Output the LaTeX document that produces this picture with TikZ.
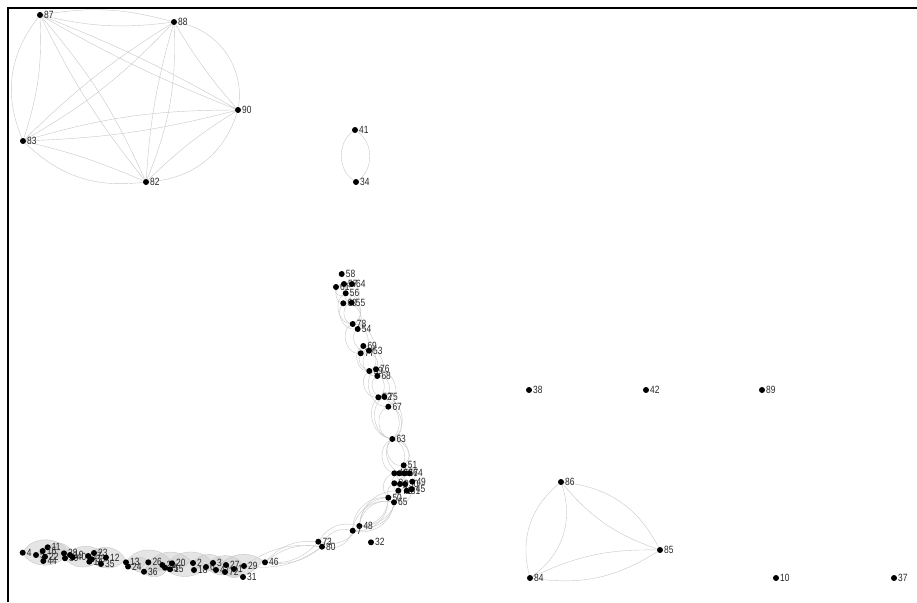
\documentclass[tikz,border=0pt]{standalone}
\usepackage{fontspec}
\usetikzlibrary{backgrounds}
\newfontfamily\labelfont{Liberation Sans}[FakeStretch=0.8]
\begin{document}
\begin{tikzpicture}[x=1pt,y=-1pt,
  lbl/.style={font=\labelfont\fontsize{10.5}{10.5}\selectfont,text=black!85,inner sep=0.8pt},
  vtx/.style={circle,fill=black,inner sep=0pt,minimum size=6pt,label={[lbl]east:#1}},
  link/.style={draw=black!22,line width=0.4pt},
  shade/.style={link,fill=black!20,fill opacity=0.5}]
\useasboundingbox (0,0) rectangle (917,602);
\draw[line width=2pt] (8,602) -- (8,8) -- (917,8);

% five-clique, top left
\node[vtx=87] (v87) at (40,15) {};
\node[vtx=88] (v88) at (174,22) {};
\node[vtx=90] (v90) at (238,110) {};
\node[vtx=82] (v82) at (146,182) {};
\node[vtx=83] (v83) at (23,141) {};

% pair 41--34
\node[vtx=41] (v41) at (355,130) {};
\node[vtx=34] (v34) at (356,182) {};

% lone vertices
\node[vtx=38] (v38) at (529,390) {};
\node[vtx=42] (v42) at (646,390) {};
\node[vtx=89] (v89) at (762,390) {};
\node[vtx=10] (v10) at (776,578) {};
\node[vtx=37] (v37) at (894,578) {};

% triangle
\node[vtx=86] (v86) at (561,482) {};
\node[vtx=85] (v85) at (660,550) {};
\node[vtx=84] (v84) at (530,578) {};

% long chain, bottom part
\foreach \n/\x/\y in {4/22.7/552.7, 5/36/555, 11/47.7/547.3, 16/42.7/551, 22/45/556.7, 44/43.3/561,
    28/64/553.3, 39/65/558.3, 19/70/555, 40/72.7/557.3, 17/88.3/556, 14/89.3/561.7, 23/94/553,
    33/91.7/559.3, 12/106/557.5, 35/101/564, 13/126/562.3, 24/128/566.5, 26/148.3/562.3, 36/144/571.7,
    21/162.3/565, 25/165/567.7, 20/172/563.3, 15/170/569.3, 2/193/563, 18/194/570, 6/206/567,
    3/213/563, 47/216/570, 27/226/565, 72/225/572, 1/234/569, 29/244/566, 31/243/577, 46/265/562.3}
  \node[vtx=\n] (v\n) at (\x,\y) {};

% long chain, upper part
\foreach \n/\x/\y in {58/341.7/274, 61/336/287, 57/344/284, 64/352/284, 56/345.7/293.3, 60/343.3/303.3,
    55/351.7/302.7, 78/352.7/324, 54/357.7/329, 69/363.3/346, 77/360.7/353.3, 53/369/350.7,
    59/369.3/371, 76/376/369.3, 68/377.3/376, 52/378.3/397.3, 75/384.3/396.7, 67/388.3/406.7,
    63/392.3/439, 51/403.7/465.3, 43/394.3/473.3, 62/399.3/473.3, 66/404.3/473.3, 74/409.3/473.3,
    8/394.3/483.3, 9/400/484, 30/405/484, 49/412.3/481.7, 71/398.3/490.7, 81/406.7/490.7,
    45/411.7/489.3, 50/388.3/497.7, 65/394/502.3, 48/359.3/526, 7/352.7/530.7, 32/371/542.3,
    73/318.3/541.7, 80/322/546.7}
  \node[vtx=\n] (v\n) at (\x,\y) {};

\begin{pgfonlayer}{background}
\foreach \a/\b/\o/\i in {v87/v88/12/10, v88/v90/45/5, v90/v82/34/6, v82/v83/25/5, v83/v87/30/10,
                         v87/v90/4/4, v87/v82/8/6, v88/v83/8/6, v88/v82/12/6, v83/v90/8/6,
                         v86/v85/28/15, v85/v84/20/13, v84/v86/32/36, v41/v34/55/55}
  \draw[link] (\a) to[bend left=\o] (\b) (\a) to[bend right=\i] (\b);

% shaded lenses along the bottom
\foreach \a/\b/\c in {v4/v19/60, v11/v40/60, v39/v12/55, v17/v13/60, v24/v26/60, v13/v20/55,
    v36/v15/60, v25/v3/55, v2/v27/55, v6/v29/55, v47/v46/45, v72/v31/50, v5/v28/55, v26/v2/45}
  \path[shade] (\a) to[bend left=\c] (\b) to[bend left=\c] (\a);

% open lenses up the chain
\foreach \a/\b/\c in {v46/v73/25, v29/v80/20, v46/v80/22, v73/v48/35, v80/v7/40, v7/v65/45,
    v48/v50/40, v50/v7/45, v65/v48/45, v45/v65/50, v71/v48/40, v43/v50/55, v8/v65/60, v62/v71/65,
    v51/v49/65, v63/v43/65, v63/v51/70, v63/v66/60, v52/v63/60, v75/v63/65, v67/v63/70,
    v59/v52/70, v76/v67/70, v68/v75/70, v69/v59/70, v53/v68/70, v77/v76/65, v78/v77/75,
    v54/v53/70, v56/v78/70, v60/v54/65, v55/v78/70, v61/v56/70, v64/v55/70, v57/v60/70}
  \draw[link] (\a) to[bend left=\c] (\b) (\a) to[bend right=\c] (\b);
\end{pgfonlayer}
\end{tikzpicture}
\end{document}
